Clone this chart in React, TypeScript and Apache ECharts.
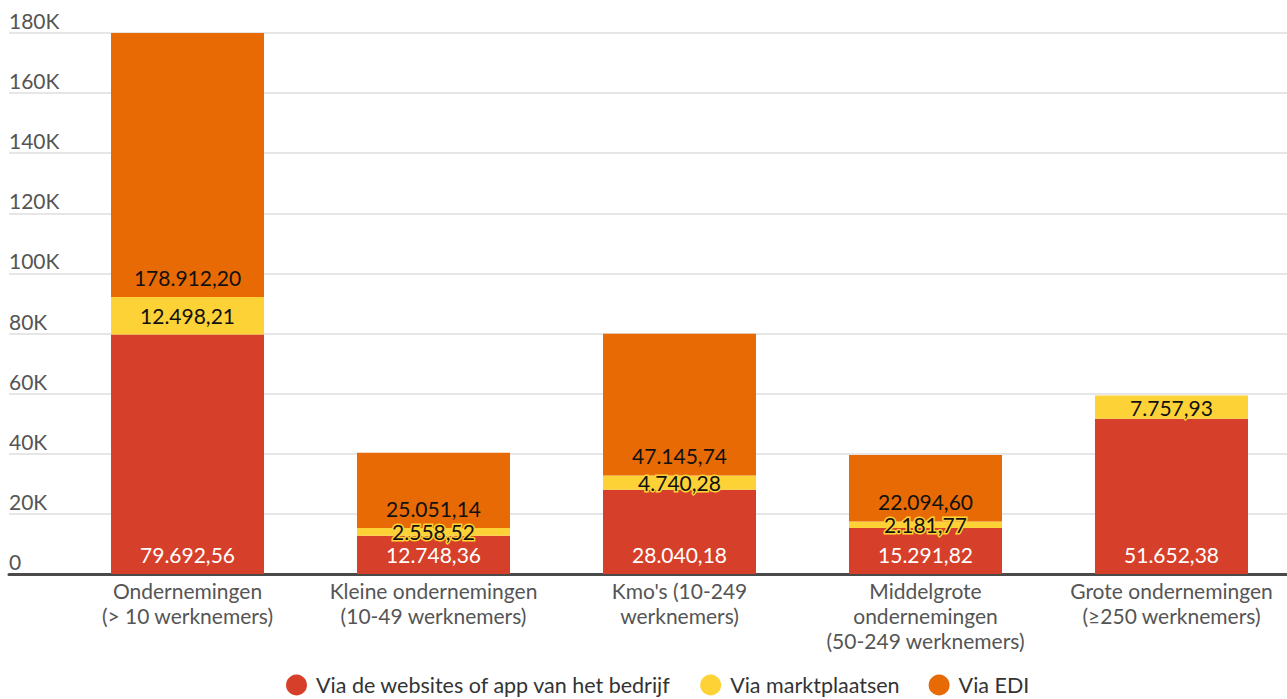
import React, { useEffect, useRef } from "react";
import * as echarts from "echarts";

const categories = [
  "Ondernemingen\n(> 10 werknemers)",
  "Kleine ondernemingen\n(10-49 werknemers)",
  "Kmo's (10-249\nwerknemers)",
  "Middelgrote\nondernemingen\n(50-249 werknemers)",
  "Grote ondernemingen\n(≥250 werknemers)",
];
const seriesNames = [
  "Via de websites of app van het bedrijf",
  "Via marktplaatsen",
  "Via EDI",
];
const websites = [79692.56, 12748.36, 28040.18, 15291.82, 51652.38];
const marktplaatsen = [12498.21, 2558.52, 4740.28, 2181.77, 7757.93];
const edi = [178912.2, 25051.14, 47145.74, 22094.6, null];
const yTicks = [0, 20000, 40000, 60000, 80000, 100000, 120000, 140000, 160000, 180000];

const colors = ["#D6402A", "#FDD236", "#E86A05"];
const FONT = "Lato";
const FS = 21;
const W = 1287;
const INNER_W = 1296;

function fmtNL(v: number): string {
  const fixed = v.toFixed(2);
  const [intPart, dec] = fixed.split(".");
  const withDots = intPart.replace(/\B(?=(\d{3})+(?!\d))/g, ".");
  return withDots + "," + dec;
}

export default function App() {
  const ref = useRef<HTMLDivElement>(null);
  useEffect(() => {
    if (!ref.current) return;
    const chart = echarts.init(ref.current, undefined, { renderer: "svg" });
    const yMax = yTicks[yTicks.length - 1];
    const interval = yTicks[1] - yTicks[0];
    const labelBase = {
      show: true,
      fontFamily: FONT,
      fontSize: FS,
      formatter: (p: any) => (p.value == null ? "" : fmtNL(p.value)),
    };
    chart.setOption({
      animation: false,
      color: colors,
      textStyle: { fontFamily: FONT },
      grid: [
        { left: 9, right: INNER_W - W, top: 33, bottom: 125 },
        { left: 64.5, right: INNER_W - 1294.5, top: 33, bottom: 125 },
      ],
      legend: {
        data: seriesNames,
        top: 674,
        left: 286,
        padding: 0,
        icon: "circle",
        itemWidth: 21,
        itemHeight: 21,
        itemGap: 29,
        textStyle: {
          fontFamily: FONT,
          fontSize: 21.5,
          lineHeight: 20,
          color: "#333",
          padding: [0, 0, 0, 4],
        },
      },
      xAxis: [
        {
          gridIndex: 0,
          type: "category",
          data: categories,
          axisLine: { show: true, lineStyle: { color: "#4a4a4a", width: 3 } },
          axisTick: { show: false },
          axisLabel: { show: false },
        },
        {
          gridIndex: 1,
          type: "category",
          data: categories,
          axisLine: { show: false },
          axisTick: { show: false },
          axisLabel: {
            fontFamily: FONT,
            fontSize: FS,
            color: "#555",
            lineHeight: 25,
            margin: 4,
            interval: 0,
          },
        },
      ],
      yAxis: [
        {
          gridIndex: 0,
          type: "value",
          min: 0,
          max: yMax,
          interval,
          axisLine: { show: false },
          axisTick: { show: false },
          splitLine: { lineStyle: { color: "#e6e6e6", width: 2 } },
          axisLabel: {
            inside: true,
            margin: 0,
            align: "left",
            verticalAlign: "bottom",
            padding: [0, 0, 2, 0],
            fontFamily: FONT,
            fontSize: FS,
            color: "#555",
            formatter: (v: number) => (v === 0 ? "0" : v / 1000 + "K"),
          },
        },
        {
          gridIndex: 1,
          type: "value",
          min: 0,
          max: yMax,
          interval,
          show: false,
        },
      ],
      series: [
        {
          name: seriesNames[0],
          type: "bar",
          stack: "total",
          xAxisIndex: 1,
          yAxisIndex: 1,
          barWidth: "62.2%",
          data: websites,
          label: { ...labelBase, position: "insideBottom", distance: 9, color: "#fff" },
        },
        {
          name: seriesNames[1],
          type: "bar",
          stack: "total",
          xAxisIndex: 1,
          yAxisIndex: 1,
          data: marktplaatsen,
          label: {
            ...labelBase,
            position: "inside",
            color: "#111",
            textBorderColor: colors[1],
            textBorderWidth: 3,
          },
        },
        {
          name: seriesNames[2],
          type: "bar",
          stack: "total",
          xAxisIndex: 1,
          yAxisIndex: 1,
          data: edi,
          label: { ...labelBase, position: "insideBottom", distance: 9, color: "#111" },
        },
      ],
    });
    return () => chart.dispose();
  }, []);
  return (
    <div
      style={{
        position: "absolute",
        left: 0,
        top: 0,
        width: W,
        height: 699,
        overflow: "hidden",
      }}
    >
      <div ref={ref} style={{ width: INNER_W, height: 699 }} />
    </div>
  );
}
